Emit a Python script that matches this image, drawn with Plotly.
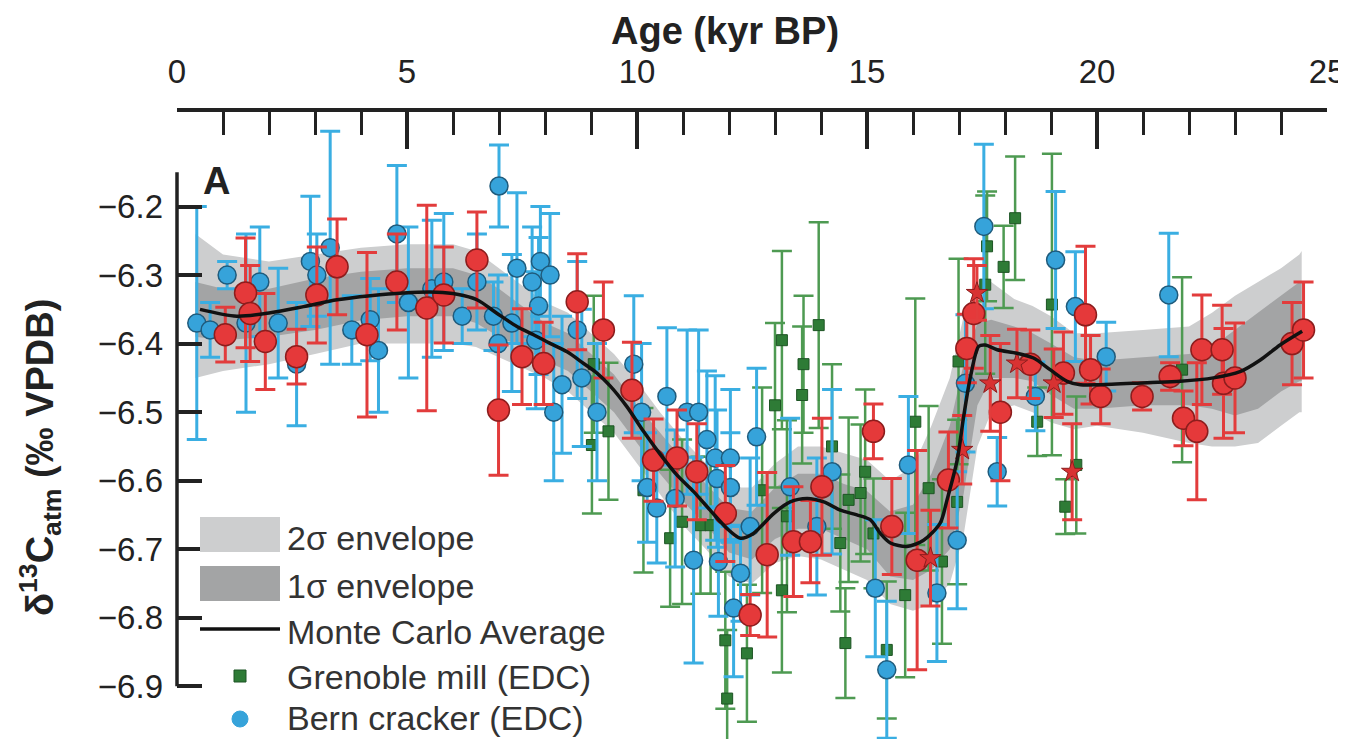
import plotly.graph_objects as go

# ---------------- data ----------------
# Bern cracker (EDC) - blue circles
bern_age = [0.43, 0.72, 1.09, 1.5, 1.8, 2.2, 2.6, 2.9, 3.04, 3.33, 3.8, 4.2, 4.38, 4.78, 5.03, 5.54, 5.8, 6.2,
            6.52, 6.88, 7.0, 6.98, 7.28, 7.39, 7.72, 7.8, 7.86, 7.9, 8.11, 8.19, 8.37, 8.7, 8.8, 9.13, 9.93, 10.1,
            10.22, 10.43, 10.65, 10.83, 11.09, 11.34, 11.52, 11.7, 11.74, 12.03, 12.03, 11.23, 11.77, 12.25, 12.1,
            12.46, 12.6, 13.33, 13.91, 14.24, 15.18, 15.43, 15.9, 16.52, 16.96, 17.14, 17.54, 17.83, 18.66, 19.1,
            19.53, 20.2, 21.56]
bern_d13c = [-6.37, -6.38, -6.30, -6.37, -6.31, -6.37, -6.43, -6.28, -6.30, -6.26, -6.38, -6.365, -6.41, -6.24,
             -6.34, -6.32, -6.31, -6.36, -6.31, -6.36, -6.17, -6.40, -6.37, -6.29, -6.31, -6.395, -6.345, -6.28,
             -6.30, -6.50, -6.46, -6.38, -6.45, -6.50, -6.43, -6.50, -6.61, -6.64, -6.477, -6.626, -6.50, -6.50,
             -6.54, -6.567, -6.597, -6.567, -6.61, -6.716, -6.718, -6.735, -6.786, -6.667, -6.536, -6.609, -6.667,
             -6.587, -6.757, -6.876, -6.577, -6.764, -6.687, -6.458, -6.229, -6.587, -6.477, -6.278, -6.346,
             -6.419, -6.329]
bern_err = [0.17, 0.04, 0.02, 0.13, 0.08, 0.08, 0.09, 0.095, 0.06, 0.17, 0.05, 0.06, 0.09, 0.10, 0.11, 0.10, 0.10,
            0.04, 0.07, 0.05, 0.06, 0.10, 0.10, 0.11, 0.08, 0.10, 0.10, 0.08, 0.09, 0.10, 0.10, 0.10, 0.10, 0.10,
            0.10, 0.10, 0.08, 0.08, 0.10, 0.10, 0.12, 0.12, 0.10, 0.12, 0.10, 0.10, 0.08, 0.15, 0.08, 0.07, 0.10,
            0.10, 0.10, 0.10, 0.10, 0.12, 0.10, 0.10, 0.10, 0.10, 0.10, 0.10, 0.12, 0.05, 0.05, 0.10, 0.08, 0.05,
            0.09]

# Grenoble mill (EDC) - green squares
gren_age = [9.02, 9.06, 9.38, 10.14, 10.72, 10.98, 11.38, 11.6, 11.92, 11.96, 12.39, 12.72, 13.0, 13.15, 13.15,
            13.26, 13.59, 13.62, 13.95, 14.24, 14.42, 14.53, 14.6, 14.86, 14.96, 15.14, 15.43, 15.83, 16.05, 16.34,
            16.63, 16.96, 16.99, 17.57, 17.61, 17.97, 18.22, 18.7, 19.02, 19.31, 19.55, 21.85]
gren_d13c = [-6.548, -6.43, -6.528, -6.614, -6.684, -6.66, -6.665, -6.665, -6.833, -6.918, -6.852, -6.614, -6.49,
             -6.395, -6.76, -6.652, -6.475, -6.43, -6.373, -6.55, -6.691, -6.837, -6.628, -6.618, -6.587, -6.677,
             -6.847, -6.767, -6.514, -6.611, -6.718, -6.631, -6.426, -6.314, -6.258, -6.288, -6.217, -6.514,
             -6.343, -6.638, -6.577, -6.438]
gren_err = [0.10, 0.10, 0.10, 0.12, 0.10, 0.12, 0.10, 0.10, 0.10, 0.10, 0.10, 0.15, 0.12, 0.13, 0.12, 0.14, 0.10,
            0.10, 0.15, 0.12, 0.10, 0.08, 0.12, 0.10, 0.12, 0.08, 0.10, 0.12, 0.18, 0.12, 0.12, 0.12, 0.15, 0.13,
            0.08, 0.06, 0.09, 0.05, 0.22, 0.04, 0.10, 0.135]

# Red circles (additional measurements)
red_age = [1.05, 1.49, 1.59, 1.92, 2.6, 3.04, 3.48, 4.13, 4.78, 5.43, 5.8, 6.52, 6.99, 7.5, 7.97, 8.7, 9.27, 9.89,
           10.36, 10.87, 11.3, 11.92, 12.46, 12.83, 13.4, 13.77, 14.02, 15.14, 15.54, 16.09, 16.77, 17.17, 17.32,
           17.9, 18.55, 19.27, 19.75, 19.86, 20.08, 20.98, 21.59, 21.88, 22.17, 22.28, 22.72, 22.75, 23.0, 24.24,
           24.49]
red_d13c = [-6.387, -6.326, -6.356, -6.397, -6.419, -6.329, -6.288, -6.387, -6.31, -6.348, -6.329, -6.278, -6.497,
            -6.419, -6.429, -6.339, -6.38, -6.468, -6.57, -6.567, -6.587, -6.648, -6.796, -6.708, -6.689, -6.689,
            -6.609, -6.528, -6.667, -6.716, -6.599, -6.407, -6.356, -6.50, -6.43, -6.443, -6.358, -6.438, -6.477,
            -6.477, -6.448, -6.509, -6.528, -6.409, -6.409, -6.458, -6.45, -6.40, -6.38]
red_err = [0.04, 0.08, 0.07, 0.07, 0.04, 0.07, 0.07, 0.12, 0.07, 0.15, 0.07, 0.07, 0.095, 0.07, 0.06, 0.07, 0.07,
           0.07, 0.06, 0.07, 0.07, 0.07, 0.03, 0.12, 0.08, 0.06, 0.10, 0.04, 0.07, 0.16, 0.07, 0.05, 0.08, 0.10,
           0.05, 0.06, 0.10, 0.05, 0.04, 0.02, 0.02, 0.04, 0.10, 0.08, 0.065, 0.08, 0.08, 0.06, 0.07]

# Red stars
star_age = [16.38, 17.07, 17.39, 17.68, 18.26, 19.06, 19.46]
star_d13c = [-6.713, -6.555, -6.326, -6.458, -6.429, -6.458, -6.587]
star_err = [0.07, 0.05, 0.04, 0.07, 0.05, 0.05, 0.07]

# Monte Carlo average
mc_age = [0.5, 1.3, 2.03, 2.75, 3.48, 4.2, 4.92, 5.65, 6.09, 6.52, 6.96, 7.39, 7.75, 8.12, 8.48, 8.84, 9.13, 9.42,
          9.78, 10.14, 10.51, 10.87, 11.23, 11.59, 11.96, 12.25, 12.53, 12.97, 13.33, 13.7, 14.06, 14.42, 14.78,
          15.07, 15.29, 15.51, 15.87, 16.23, 16.59, 16.74, 16.96, 17.1, 17.25, 17.43, 17.57, 17.83, 18.26, 18.62,
          18.98, 19.35, 19.64, 20.07, 21.09, 21.81, 22.53, 23.11, 23.55, 23.98, 24.46]
mc_mean = [-6.350, -6.360, -6.355, -6.346, -6.336, -6.330, -6.326, -6.325, -6.328, -6.336, -6.356, -6.375, -6.387,
           -6.400, -6.412, -6.429, -6.443, -6.462, -6.492, -6.528, -6.562, -6.592, -6.616, -6.643, -6.670, -6.684,
           -6.677, -6.648, -6.631, -6.626, -6.631, -6.643, -6.650, -6.657, -6.677, -6.691, -6.696, -6.687, -6.662,
           -6.628, -6.570, -6.507, -6.448, -6.404, -6.402, -6.409, -6.414, -6.421, -6.438, -6.455, -6.460, -6.460,
           -6.457, -6.455, -6.450, -6.441, -6.424, -6.402, -6.382]

# Envelopes
env_age = [0.4, 1.0, 2.0, 3.0, 4.0, 5.0, 6.0, 6.5, 7.0, 7.5, 8.0, 8.5, 9.0, 9.5, 10.0, 10.5, 11.0, 11.5, 12.0,
           12.5, 13.0, 13.5, 14.0, 14.5, 15.0, 15.5, 16.0, 16.4, 16.8, 17.1, 17.4, 17.7, 18.2, 18.6, 19.0, 19.5,
           20.0, 21.0, 22.0, 22.5, 23.0, 23.5, 24.0, 24.4, 24.45]
env2_lo = [-6.45, -6.44, -6.43, -6.415, -6.40, -6.40, -6.40, -6.405, -6.42, -6.435, -6.45, -6.47, -6.50, -6.53,
           -6.575, -6.62, -6.665, -6.70, -6.74, -6.75, -6.72, -6.71, -6.715, -6.73, -6.745, -6.78, -6.79, -6.78,
           -6.75, -6.68, -6.55, -6.50, -6.49, -6.50, -6.515, -6.525, -6.52, -6.53, -6.545, -6.55, -6.55, -6.545,
           -6.52, -6.50, -6.50]
env2_hi = [-6.24, -6.27, -6.28, -6.27, -6.26, -6.255, -6.255, -6.265, -6.29, -6.315, -6.34, -6.355, -6.385, -6.415,
           -6.455, -6.50, -6.54, -6.575, -6.61, -6.61, -6.575, -6.55, -6.55, -6.56, -6.57, -6.60, -6.58, -6.52,
           -6.45, -6.36, -6.32, -6.31, -6.335, -6.345, -6.36, -6.385, -6.385, -6.38, -6.375, -6.355, -6.33, -6.31,
           -6.29, -6.27, -6.265]
env1_lo = [-6.39, -6.395, -6.39, -6.38, -6.366, -6.36, -6.36, -6.37, -6.39, -6.405, -6.425, -6.44, -6.47, -6.50,
           -6.545, -6.59, -6.63, -6.665, -6.705, -6.715, -6.685, -6.67, -6.67, -6.685, -6.70, -6.74, -6.745, -6.73,
           -6.70, -6.62, -6.49, -6.45, -6.45, -6.455, -6.475, -6.495, -6.495, -6.49, -6.49, -6.495, -6.505, -6.495,
           -6.47, -6.455, -6.455]
env1_hi = [-6.31, -6.32, -6.32, -6.305, -6.295, -6.29, -6.29, -6.30, -6.32, -6.345, -6.37, -6.385, -6.415, -6.445,
           -6.49, -6.53, -6.57, -6.605, -6.64, -6.645, -6.61, -6.59, -6.59, -6.605, -6.615, -6.645, -6.635, -6.59,
           -6.52, -6.43, -6.37, -6.365, -6.375, -6.385, -6.40, -6.42, -6.425, -6.42, -6.415, -6.405, -6.38, -6.355,
           -6.33, -6.31, -6.31]

x_ticks = [0, 5, 10, 15, 20, 25]
y_ticks = [-6.2, -6.3, -6.4, -6.5, -6.6, -6.7, -6.8, -6.9]

# ---------------- styles ----------------
OFF = 8                      # page body margin
WIN_W, WIN_H = 1346, 739     # browser window
W, H = WIN_W - OFF, WIN_H - OFF
PLOT_L, PLOT_R, PLOT_T, PLOT_B = 177, 1327, 112, 739   # plot area in window pixels
ML, MT = PLOT_L - OFF, PLOT_T - OFF
MR, MB = W - (PLOT_R - OFF), H - (PLOT_B - OFF)
PW, PH = PLOT_R - PLOT_L, PLOT_B - PLOT_T
FONT = "Liberation Sans, Arial, Helvetica, sans-serif"
AXC = "#222222"
C2 = "#cdcecf"
C1 = "#a3a4a5"


def px_x(px):
    return (px - PLOT_L) / PW


def px_y(py):
    return (PLOT_B - py) / PH


fig = go.Figure()

# envelopes
fig.add_trace(go.Scatter(x=env_age + env_age[::-1], y=env2_hi + env2_lo[::-1], fill="toself",
                         fillcolor=C2, line=dict(width=0), mode="lines", hoverinfo="skip", showlegend=False))
fig.add_trace(go.Scatter(x=env_age + env_age[::-1], y=env1_hi + env1_lo[::-1], fill="toself",
                         fillcolor=C1, line=dict(width=0), mode="lines", hoverinfo="skip", showlegend=False))

# green squares
fig.add_trace(go.Scatter(x=gren_age, y=gren_d13c, mode="markers", showlegend=False,
                         error_y=dict(type="data", array=gren_err, color="#4e9a52", thickness=2.5, width=10),
                         marker=dict(symbol="square", size=11, color="#2e7b36",
                                     line=dict(color="#1d5424", width=1))))
# blue circles
fig.add_trace(go.Scatter(x=bern_age, y=bern_d13c, mode="markers", showlegend=False,
                         error_y=dict(type="data", array=bern_err, color="#3aaee2", thickness=3, width=10),
                         marker=dict(symbol="circle", size=18, color="#36a3da",
                                     line=dict(color="#1f5b7c", width=1.5))))
# red circles
fig.add_trace(go.Scatter(x=red_age, y=red_d13c, mode="markers", showlegend=False,
                         error_y=dict(type="data", array=red_err, color="#e23c3c", thickness=3, width=10),
                         marker=dict(symbol="circle", size=22, color="#e5393a",
                                     line=dict(color="#8c1d1d", width=1.5))))
# red stars
fig.add_trace(go.Scatter(x=star_age, y=star_d13c, mode="markers", showlegend=False,
                         error_y=dict(type="data", array=star_err, color="#e23c3c", thickness=3, width=10),
                         marker=dict(symbol="star", size=16, color="#d83232",
                                     line=dict(color="#8c1d1d", width=1))))
# Monte Carlo average
fig.add_trace(go.Scatter(x=mc_age, y=mc_mean, mode="lines", showlegend=False,
                         line=dict(color="#111111", width=3.5, shape="spline", smoothing=0.8)))

# ---------------- layout ----------------
fig.update_layout(
    width=W, height=H, margin=dict(l=ML, r=MR, t=MT, b=MB, pad=0),
    paper_bgcolor="white", plot_bgcolor="white",
    font=dict(family=FONT, size=33, color=AXC),
    showlegend=False,
    xaxis=dict(range=[0, 25], side="top", showline=True, linewidth=3.5, linecolor=AXC,
               ticks="inside", ticklen=37, tickwidth=3.5, tickcolor=AXC,
               tickvals=x_ticks, ticktext=[str(v) for v in x_ticks],
               tickfont=dict(size=33, color=AXC), ticklabelstandoff=12,
               minor=dict(dtick=1, ticks="inside", ticklen=23, tickwidth=3, tickcolor=AXC, showgrid=False),
               showgrid=False, zeroline=False, mirror=False),
    yaxis=dict(range=[-6.977, -6.062], showline=False, ticks="inside", ticklen=25, tickwidth=3.5,
               tickcolor=AXC, tickvals=y_ticks, tickformat=".1f", tickfont=dict(size=33, color=AXC),
               ticklabelstandoff=13, showgrid=False, zeroline=False),
)

# y axis line (partial, as in the original)
fig.add_shape(type="line", xref="paper", yref="y", x0=0, x1=0, y0=-6.15, y1=-6.9,
              line=dict(color=AXC, width=3.5))

# titles
fig.add_annotation(text="<b>Age (kyr BP)</b>", xref="paper", yref="paper", x=px_x(725), y=px_y(31),
                   showarrow=False, font=dict(size=38, color=AXC), xanchor="center", yanchor="middle")
fig.add_annotation(text="<b>δ<sup>13</sup>C<sub>atm</sub> (‰ VPDB)</b>", xref="paper", yref="paper",
                   x=px_x(40), y=px_y(458), textangle=-90, showarrow=False,
                   font=dict(size=38, color=AXC), xanchor="center", yanchor="middle")
fig.add_annotation(text="<b>A</b>", xref="paper", yref="paper", x=px_x(216), y=px_y(181),
                   showarrow=False, font=dict(size=38, color=AXC), xanchor="center", yanchor="middle")

# legend (drawn inside plot area)
fig.add_shape(type="rect", xref="paper", yref="paper", x0=px_x(200), x1=px_x(280), y0=px_y(552), y1=px_y(517),
              fillcolor=C2, line=dict(width=0))
fig.add_shape(type="rect", xref="paper", yref="paper", x0=px_x(200), x1=px_x(280), y0=px_y(601), y1=px_y(566),
              fillcolor=C1, line=dict(width=0))
fig.add_shape(type="line", xref="paper", yref="paper", x0=px_x(200), x1=px_x(280), y0=px_y(629), y1=px_y(629),
              line=dict(color="#111111", width=3.5))
fig.add_shape(type="rect", xref="paper", yref="paper", x0=px_x(234), x1=px_x(246), y0=px_y(682), y1=px_y(670),
              fillcolor="#2e7b36", line=dict(color="#1d5424", width=1))
fig.add_shape(type="circle", xref="paper", yref="paper", x0=px_x(232), x1=px_x(248), y0=px_y(727), y1=px_y(711),
              fillcolor="#36a3da", line=dict(color="#36a3da", width=1))

legend_text = ["2σ envelope", "1σ envelope", "Monte Carlo Average", "Grenoble mill (EDC)", "Bern cracker (EDC)"]
legend_y = [538, 586, 632, 677, 718]
for t, yy in zip(legend_text, legend_y):
    fig.add_annotation(text=t, xref="paper", yref="paper", x=px_x(285), y=px_y(yy), showarrow=False,
                       xanchor="left", yanchor="middle", font=dict(size=34, color="#333333"))

fig.write_html("out.html")
